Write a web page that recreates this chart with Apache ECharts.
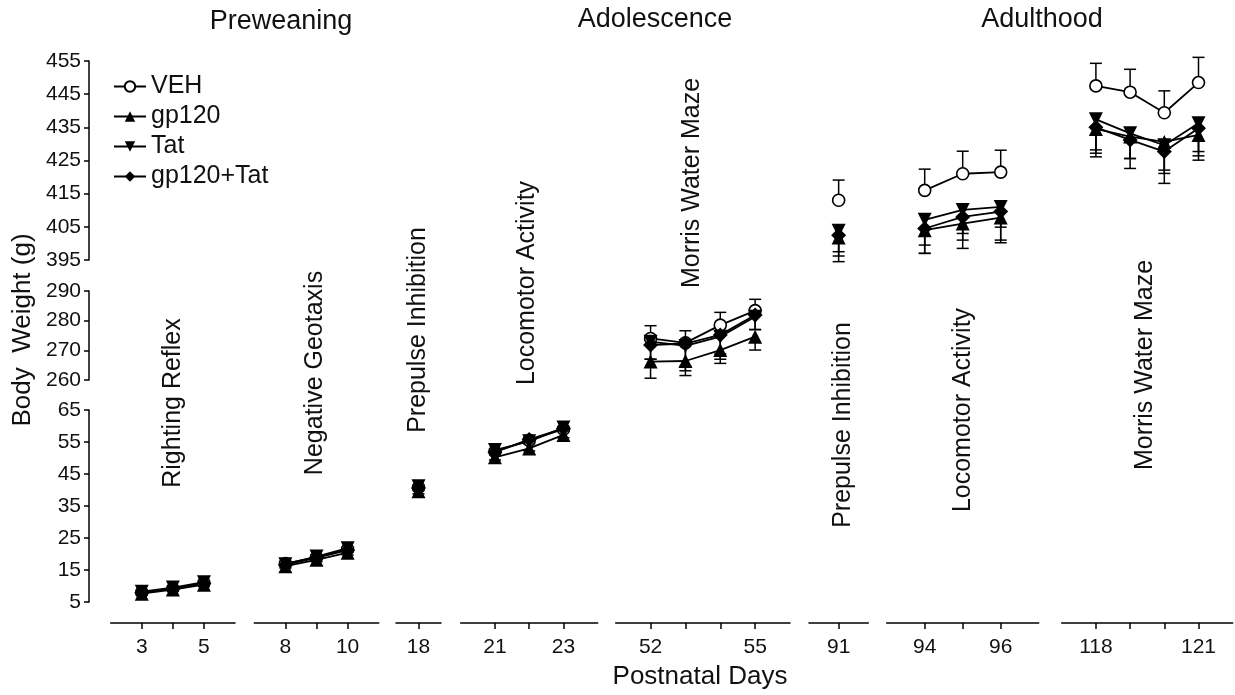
<!DOCTYPE html>
<html>
<head>
<meta charset="utf-8">
<script src="https://cdn.jsdelivr.net/npm/echarts@6/dist/echarts.min.js"></script>
<style>
html,body{margin:0;padding:0;background:#fff;}
#chart{width:1235px;height:695px;}
</style>
</head>
<body>
<div id="chart"></div>
<script>
// ---------------- DATA ----------------
const days = [3,4,5, 8,9,10, 18, 21,22,23, 52,53,54,55, 91, 94,95,96, 118,119,120,121];
const groupDays = [[3,4,5],[8,9,10],[18],[21,22,23],[52,53,54,55],[91],[94,95,96],[118,119,120,121]];
const groupLabels = [[3,5],[8,10],[18],[21,23],[52,55],[91],[94,96],[118,121]];
const groupBand = [0,0,0,0,1,2,2,2];
const bandRanges = [[5,65],[260,290],[395,455]];
const seriesNames = ['VEH','gp120','Tat','gp120+Tat'];

const vehMean   = [8.0,9.2,11.0, 17.0,19.0,21.5, 40.8, 52.0,55.5,59.0, 274.0,272.5,278.5,283.4, 413.0, 416.0,421.0,421.5, 447.5,445.6,439.4,448.5];
const vehSem    = [0.5,0.5,0.6, 0.6,0.6,0.7, 0.8, 0.8,0.8,0.9, 4.3,4.1,4.3,3.8, 6.1, 6.4,6.8,6.6, 6.8,6.9,6.6,7.6];
const gp120Mean = [7.6,8.9,10.4, 16.2,18.2,20.4, 39.6, 50.2,53.0,57.2, 266.2,266.4,270.1,274.6, 401.8, 404.0,406.0,407.8, 434.5,432.2,430.6,432.7];
const gp120Sem  = [0.5,0.5,0.6, 0.6,0.6,0.7, 0.8, 0.8,0.8,0.9, 5.6,4.9,4.5,4.5, 4.3, 7.0,7.5,7.6, 8.4,9.6,9.5,7.6];
const tatMean   = [8.2,9.5,11.2, 16.8,19.2,21.8, 41.2, 52.5,55.2,59.5, 272.9,271.5,274.6,281.3, 403.8, 407.1,410.1,411.0, 437.4,433.2,429.6,436.2];
const tatSem    = [0.5,0.5,0.6, 0.6,0.6,0.7, 0.8, 0.8,0.8,0.9, 5.9,6.8,5.8,4.3, 7.6, 7.6,7.1,6.1, 9.2,7.6,7.5,8.5];
const comboMean = [7.9,9.1,10.8, 16.6,18.8,21.2, 40.6, 51.8,55.8,59.2, 271.8,272.3,275.2,281.9, 402.5, 404.5,408.0,409.6, 435.0,431.2,427.7,434.7];
const comboSem  = [0.5,0.5,0.6, 0.6,0.6,0.7, 0.8, 0.8,0.8,0.9, 4.8,9.2,8.2,4.9, 8.0, 7.5,7.0,8.6, 7.8,5.6,9.6,8.3];

const phaseTitles = ['Preweaning','Adolescence','Adulthood'];
const testLabels = ['Righting Reflex','Negative Geotaxis','Prepulse Inhibition','Locomotor Activity','Morris Water Maze','Prepulse Inhibition','Locomotor Activity','Morris Water Maze'];

// ---------------- LAYOUT ----------------
const FONT = '"Liberation Sans", Arial, sans-serif';
const AXIS_Y = 623;
const bandPix = [{top:410,height:192},{top:291,height:89},{top:61,height:199}];
const groupPix = [[110.7,124.3],[254.3,124.4],[396,45],[460.7,137],[615.7,174.3],[809,59.3],[886.7,152],[1061.7,171]];
const phasePos = [[281,22],[655,20],[1042,20]];
const testPos = [[173,403],[315,373],[418,330],[527,283],[692,183],[843,425],[963,410],[1145,365]];

const seriesDefs = [
  {name:'VEH', mean:vehMean, sem:vehSem, dir:1, symbol:'circle', size:12, fill:'#fff', z:2},
  {name:'gp120', mean:gp120Mean, sem:gp120Sem, dir:-1, symbol:'triangle', size:14, fill:'#000', z:3},
  {name:'Tat', mean:tatMean, sem:tatSem, dir:-1, symbol:'triangle', rotate:180, size:14, fill:'#000', z:3},
  {name:'gp120+Tat', mean:comboMean, sem:comboSem, dir:-1, symbol:'diamond', size:15, fill:'#000', z:4}
];

const grids = [], xAxes = [], yAxes = [], series = [];
const lineStyleAxis = {color:'#000', width:1.5};

// band y-axes (visible)
bandPix.forEach((b, i) => {
  grids.push({left:89, top:b.top, width:1, height:b.height});
  xAxes.push({type:'value', gridIndex:i, show:false});
  yAxes.push({
    type:'value', gridIndex:i, min:bandRanges[i][0], max:bandRanges[i][1], interval:10,
    axisLine:{show:true, lineStyle:lineStyleAxis},
    axisTick:{show:true, length:5, lineStyle:lineStyleAxis},
    axisLabel:{fontSize:21, color:'#111', fontFamily:FONT, margin:8},
    splitLine:{show:false}
  });
});

// group grids
groupDays.forEach((gd, g) => {
  const gi = grids.length;
  const b = bandPix[groupBand[g]];
  const range = bandRanges[groupBand[g]];
  grids.push({left:groupPix[g][0], width:groupPix[g][1], top:b.top, height:b.height});
  xAxes.push({
    type:'value', gridIndex:gi, min:gd[0]-1, max:gd[gd.length-1]+1, interval:1,
    position:'bottom', offset: AXIS_Y - (b.top + b.height),
    axisLine:{show:true, onZero:false, lineStyle:lineStyleAxis},
    axisTick:{show:true, length:6, customValues:gd, lineStyle:lineStyleAxis},
    axisLabel:{customValues:groupLabels[g], fontSize:21, color:'#111', fontFamily:FONT, margin:14},
    splitLine:{show:false}
  });
  yAxes.push({type:'value', gridIndex:gi, min:range[0], max:range[1], show:false});

  seriesDefs.forEach(sd => {
    const data = gd.map(d => { const k = days.indexOf(d); return [d, sd.mean[k], sd.sem[k]]; });
    // error bars
    series.push({
      type:'custom', xAxisIndex:gi, yAxisIndex:gi, z:1, silent:true,
      data: data,
      encode:{x:0, y:1},
      renderItem: (params, api) => {
        const x = api.value(0), m = api.value(1), e = api.value(2);
        const p0 = api.coord([x, m]);
        const p1 = api.coord([x, m + sd.dir * e]);
        const cap = 6;
        return {
          type:'group',
          children:[
            {type:'line', shape:{x1:p0[0], y1:p0[1], x2:p1[0], y2:p1[1]}, style:{stroke:'#000', lineWidth:1.5}},
            {type:'line', shape:{x1:p1[0]-cap, y1:p1[1], x2:p1[0]+cap, y2:p1[1]}, style:{stroke:'#000', lineWidth:1.5}}
          ]
        };
      }
    });
    // line + markers
    series.push({
      type:'line', name:sd.name, xAxisIndex:gi, yAxisIndex:gi, z:sd.z,
      data: data.map(p => [p[0], p[1]]),
      symbol: sd.symbol, symbolSize: sd.size, symbolRotate: sd.rotate || 0,
      showAllSymbol:true, animation:false,
      lineStyle:{color:'#000', width:1.8},
      itemStyle:{color:sd.fill, borderColor:'#000', borderWidth: sd.fill === '#fff' ? 1.6 : 0}
    });
  });
});

const graphic = [];
phaseTitles.forEach((t, i) => {
  graphic.push({type:'text', x:phasePos[i][0], y:phasePos[i][1],
    style:{text:t, fontSize:27, fontFamily:FONT, fill:'#111', textAlign:'center', textVerticalAlign:'middle'}});
});
testLabels.forEach((t, i) => {
  graphic.push({type:'text', x:testPos[i][0], y:testPos[i][1], rotation:Math.PI/2,
    style:{text:t, fontSize:25, fontFamily:FONT, fill:'#111', textAlign:'center', textVerticalAlign:'middle'}});
});
graphic.push({type:'text', x:23, y:330, rotation:Math.PI/2,
  style:{text:'Body  Weight (g)', fontSize:26, fontFamily:FONT, fill:'#111', textAlign:'center', textVerticalAlign:'middle'}});
graphic.push({type:'text', x:700, y:677,
  style:{text:'Postnatal Days', fontSize:26, fontFamily:FONT, fill:'#111', textAlign:'center', textVerticalAlign:'middle'}});

const chart = echarts.init(document.getElementById('chart'), null, {renderer:'canvas'});
chart.setOption({
  backgroundColor:'#fff',
  animation:false,
  textStyle:{fontFamily:FONT},
  legend:{
    data:seriesNames, orient:'vertical', left:108, top:69,
    itemWidth:32, itemHeight:13, itemGap:5,
    textStyle:{fontSize:25, color:'#111', fontFamily:FONT, lineHeight:25},
    selectedMode:false
  },
  grid:grids, xAxis:xAxes, yAxis:yAxes, series:series, graphic:graphic
});
</script>
</body>
</html>
